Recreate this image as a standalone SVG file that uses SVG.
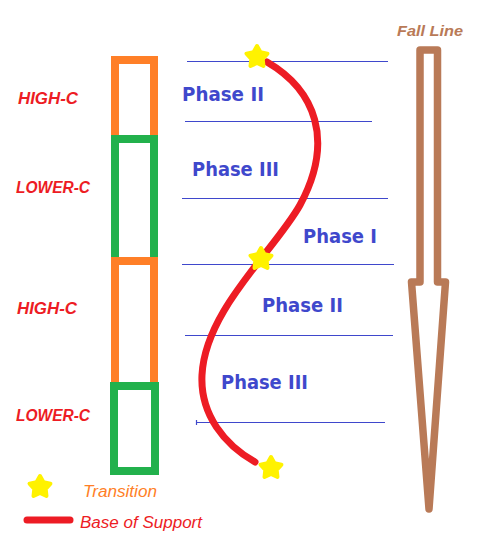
<svg xmlns="http://www.w3.org/2000/svg" width="503" height="557" viewBox="0 0 503 557">
<style>
.bar{fill:none;stroke-width:8}
.or{stroke:#ff7f27}
.gr{stroke:#22b14c}
.hl{stroke:#3f48cc;stroke-width:1.2;fill:none}
.ph{font-family:"DejaVu Sans",sans-serif;font-weight:bold;font-size:19px;fill:#3f48cc}
.lc{font-family:"Liberation Sans",sans-serif;font-weight:bold;font-style:italic;font-size:16px;fill:#ed1c24}
.star{fill:#fff200;stroke:#fff200;stroke-width:4;stroke-linejoin:round}
</style>
<defs>
<polygon id="st" points="0,-11 3.5,-4.8 10.46,-3.4 5.7,1.85 6.47,8.9 0,6 -6.47,8.9 -5.7,1.85 -10.46,-3.4 -3.5,-4.8"/>
</defs>
<rect width="503" height="557" fill="#fff"/>
<g id="bars">
<rect class="bar or" x="115" y="60" width="39" height="79"/>
<rect class="bar gr" x="115" y="139" width="39" height="122"/>
<rect class="bar or" x="115" y="261" width="39" height="125"/>
<rect class="bar gr" x="114" y="386" width="41" height="85"/>
</g>
<g id="labels-left">
<text class="lc" x="18" y="104" textLength="60" lengthAdjust="spacingAndGlyphs">HIGH-C</text>
<text class="lc" x="16" y="193" textLength="74" lengthAdjust="spacingAndGlyphs">LOWER-C</text>
<text class="lc" x="17" y="314" textLength="60" lengthAdjust="spacingAndGlyphs">HIGH-C</text>
<text class="lc" x="16" y="421" textLength="74" lengthAdjust="spacingAndGlyphs">LOWER-C</text>
</g>
<g id="phase-lines">
<line class="hl" x1="187" y1="61.5" x2="388" y2="61.5"/>
<line class="hl" x1="185" y1="121.5" x2="372" y2="121.5"/>
<line class="hl" x1="182" y1="198.5" x2="388" y2="198.5"/>
<line class="hl" x1="182" y1="264.5" x2="394" y2="264.5"/>
<line class="hl" x1="185" y1="335.5" x2="393" y2="335.5"/>
<line class="hl" x1="196" y1="422.5" x2="385" y2="422.5"/>
<line class="hl" x1="196.5" y1="420" x2="196.5" y2="425"/>
</g>
<g id="phase-labels">
<text class="ph" x="182" y="101" textLength="82" lengthAdjust="spacingAndGlyphs">Phase II</text>
<text class="ph" x="192" y="176" textLength="87" lengthAdjust="spacingAndGlyphs">Phase III</text>
<text class="ph" x="303" y="243" textLength="74" lengthAdjust="spacingAndGlyphs">Phase I</text>
<text class="ph" x="262" y="312" textLength="81" lengthAdjust="spacingAndGlyphs">Phase II</text>
<text class="ph" x="221" y="389" textLength="87" lengthAdjust="spacingAndGlyphs">Phase III</text>
</g>
<g id="base-of-support">
<path d="M267,62 C315,90 335,140 300,205 C275,250 205,310 202,375 C200,415 225,445 255,462" fill="none" stroke="#ed1c24" stroke-width="7" stroke-linecap="round"/>
</g>
<g id="transitions">
<use href="#st" class="star" x="257" y="57"/>
<use href="#st" class="star" x="261" y="259"/>
<use href="#st" class="star" x="271" y="468"/>
</g>
<g id="fall-line">
<text x="397" y="36" font-family="'Liberation Sans',sans-serif" font-weight="bold" font-style="italic" font-size="15" fill="#b97a57" textLength="66" lengthAdjust="spacingAndGlyphs">Fall Line</text>
<path d="M420,282 L420,50 L437.5,50 L437.5,282 L445.5,282 L429,509 L411.5,282 Z" fill="none" stroke="#b97a57" stroke-width="7.5" stroke-linejoin="round"/>
</g>
<g id="legend">
<use href="#st" class="star" x="40" y="487"/>
<text x="83" y="497" font-family="'Liberation Sans',sans-serif" font-style="italic" font-size="16" fill="#ff7f27" textLength="74" lengthAdjust="spacingAndGlyphs">Transition</text>
<line x1="27" y1="520" x2="70" y2="520" stroke="#ed1c24" stroke-width="7" stroke-linecap="round"/>
<text x="80" y="528" font-family="'Liberation Sans',sans-serif" font-style="italic" font-size="16" fill="#ed1c24" textLength="122" lengthAdjust="spacingAndGlyphs">Base of Support</text>
</g>
</svg>
